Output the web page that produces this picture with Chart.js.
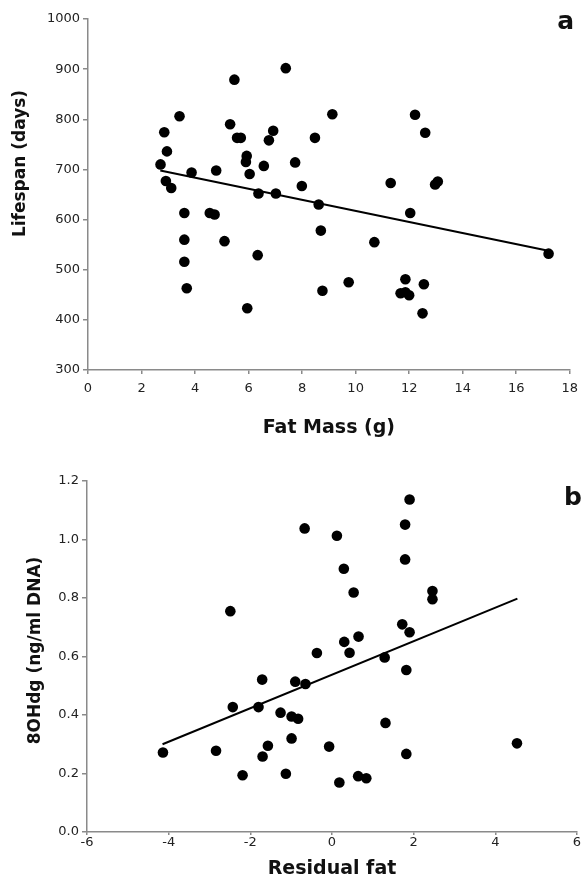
<!DOCTYPE html>
<html>
<head>
<meta charset="utf-8">
<script src="https://cdn.jsdelivr.net/npm/chart.js@4.4.1/dist/chart.umd.min.js"></script>
<style>
  html, body { margin: 0; padding: 0; background: #fff; }
  #wrap { position: relative; width: 585px; height: 892px; }
  canvas { position: absolute; left: 0; }
  #chartA { top: 0; }
  #chartB { top: 440px; }
</style>
</head>
<body>
<div id="wrap">
  <canvas id="chartA" width="585" height="440"></canvas>
  <canvas id="chartB" width="585" height="452"></canvas>
</div>
<script>
// ---- panel a: fat mass vs lifespan ----
const fatMass = [2.71, 2.85, 2.95, 2.91, 3.11, 3.42, 3.87, 4.79, 5.31, 5.47, 5.57, 5.71, 5.93, 5.90,
  6.04, 6.57, 6.76, 6.92, 7.39, 6.37, 7.02, 7.74, 7.99, 8.48, 9.13, 8.62, 3.60, 4.55, 4.73, 3.60,
  5.10, 3.60, 3.69, 6.34, 5.95, 8.70, 8.76, 12.04, 10.70, 9.74, 11.86, 12.55, 11.68, 11.86, 12.00,
  12.50, 17.21, 12.22, 12.60, 11.31, 12.97, 13.07];
const lifespan = [710, 774, 736, 677, 663, 806, 694, 698, 790, 879, 763, 763, 727, 715,
  691, 707, 758, 777, 902, 652, 652, 714, 667, 763, 810, 630, 613, 613, 610, 560,
  557, 516, 463, 529, 423, 578, 458, 613, 555, 475, 481, 471, 453, 455, 449,
  413, 532, 809, 773, 673, 670, 676];
const fitFatMass = [2.7, 17.2];
const fitLifespan = [698, 538];
const ticksFatMass = [0, 2, 4, 6, 8, 10, 12, 14, 16, 18];
const ticksLifespan = [300, 400, 500, 600, 700, 800, 900, 1000];

// ---- panel b: residual fat vs 8OHdg ----
const residualFat = [-4.14, -2.84, -2.49, -2.43, -2.19, -1.80, -1.71, -1.70, -1.57, -1.26, -1.13,
  -0.99, -0.99, -0.90, -0.83, -0.67, -0.65, -0.37, -0.07, 0.12, 0.18, 0.29, 0.30, 0.43, 0.53,
  0.65, 0.64, 0.84, 1.29, 1.31, 1.72, 1.79, 1.79, 1.82, 1.82, 1.90, 1.90, 2.46, 2.46, 4.53];
const ohdg = [0.272, 0.278, 0.755, 0.427, 0.194, 0.427, 0.521, 0.258, 0.295, 0.408, 0.199,
  0.395, 0.320, 0.514, 0.387, 1.038, 0.506, 0.612, 0.292, 1.013, 0.169, 0.900, 0.650, 0.613, 0.819,
  0.668, 0.191, 0.184, 0.597, 0.373, 0.710, 1.051, 0.932, 0.554, 0.267, 1.137, 0.683, 0.824, 0.796, 0.303];
const fitResidual = [-4.15, 4.54];
const fitOhdg = [0.300, 0.798];
const ticksResidual = [-6, -4, -2, 0, 2, 4, 6];
const ticksOhdg = [0, 0.2, 0.4, 0.6, 0.8, 1.0, 1.2];

Chart.defaults.font.family = '"DejaVu Sans", "Liberation Sans", sans-serif';
Chart.defaults.font.size = 13;
Chart.defaults.color = '#222';

const AXIS_GREY = '#8a8a8a';

// axis titles and the panel letter, placed relative to the chart area
const panelText = {
  id: 'panelText',
  afterDraw(chart, args, o) {
    const { ctx, chartArea: ca } = chart;
    ctx.save();
    ctx.fillStyle = '#111';
    ctx.textAlign = 'center';
    ctx.textBaseline = 'middle';
    ctx.font = 'bold 19px "DejaVu Sans"';
    ctx.fillText(o.xTitle, (ca.left + ca.right) / 2, ca.bottom + o.xTitleGap);

    ctx.save();
    ctx.translate(o.yTitleX, (ca.top + ca.bottom) / 2 + o.yTitleShift);
    ctx.rotate(-Math.PI / 2);
    ctx.font = 'bold 17px "DejaVu Sans"';
    ctx.fillText(o.yTitle, 0, 0);
    ctx.restore();

    ctx.textBaseline = 'alphabetic';
    ctx.font = 'bold 25px "DejaVu Sans"';
    ctx.fillText(o.letter, ca.right - 4, o.letterY);
    ctx.restore();
  }
};

function makePanel(id, cfg) {
  const points = cfg.xs.map((x, i) => ({ x: x, y: cfg.ys[i] }));
  const fit = cfg.fitX.map((x, i) => ({ x: x, y: cfg.fitY[i] }));
  return new Chart(document.getElementById(id), {
    type: 'scatter',
    data: {
      datasets: [
        { data: points, pointRadius: 5.3, pointHoverRadius: 5.3, backgroundColor: '#000', borderWidth: 0 },
        { data: fit, showLine: true, pointRadius: 0, borderColor: '#000', borderWidth: 2, fill: false }
      ]
    },
    options: {
      responsive: false,
      animation: false,
      events: [],
      layout: { padding: { top: cfg.padTop, right: 8, left: 0, bottom: 0 } },
      plugins: {
        legend: { display: false },
        tooltip: { enabled: false },
        panelText: cfg.text
      },
      scales: {
        x: {
          type: 'linear',
          min: cfg.xTicks[0],
          max: cfg.xTicks[cfg.xTicks.length - 1],
          afterBuildTicks: s => { s.ticks = cfg.xTicks.map(v => ({ value: v })); },
          afterFit: s => { s.height = cfg.xAxisHeight; },
          grid: { drawOnChartArea: false, drawTicks: true, tickLength: cfg.xTickLen, color: AXIS_GREY, lineWidth: 1.5 },
          border: { display: true, color: AXIS_GREY, width: 1.5 },
          ticks: { padding: cfg.xTickPad, maxRotation: 0, autoSkip: false }
        },
        y: {
          type: 'linear',
          min: cfg.yTicks[0],
          max: cfg.yTicks[cfg.yTicks.length - 1],
          afterBuildTicks: s => { s.ticks = cfg.yTicks.map(v => ({ value: v })); },
          afterFit: s => { s.width = cfg.yAxisWidth; },
          grid: { drawOnChartArea: false, drawTicks: true, tickLength: 5, color: AXIS_GREY, lineWidth: 1.5 },
          border: { display: true, color: AXIS_GREY, width: 1.5 },
          ticks: { padding: 3, autoSkip: false, callback: cfg.yFormat }
        }
      }
    },
    plugins: [panelText]
  });
}

makePanel('chartA', {
  xs: fatMass, ys: lifespan, fitX: fitFatMass, fitY: fitLifespan,
  xTicks: ticksFatMass, yTicks: ticksLifespan,
  padTop: 19, xAxisHeight: 70, yAxisWidth: 88, xTickLen: 4, xTickPad: 7,
  yFormat: v => String(v),
  text: { xTitle: 'Fat Mass (g)', xTitleGap: 58, yTitle: 'Lifespan (days)', yTitleX: 21, yTitleShift: -31, letter: 'a', letterY: 29 }
});

makePanel('chartB', {
  xs: residualFat, ys: ohdg, fitX: fitResidual, fitY: fitOhdg,
  xTicks: ticksResidual, yTicks: ticksOhdg,
  padTop: 41, xAxisHeight: 60, yAxisWidth: 87, xTickLen: 3, xTickPad: 0,
  yFormat: v => v.toFixed(1),
  text: { xTitle: 'Residual fat', xTitleGap: 37, yTitle: '8OHdg (ng/ml DNA)', yTitleX: 36, yTitleShift: -6, letter: 'b', letterY: 65 }
});
</script>
</body>
</html>
